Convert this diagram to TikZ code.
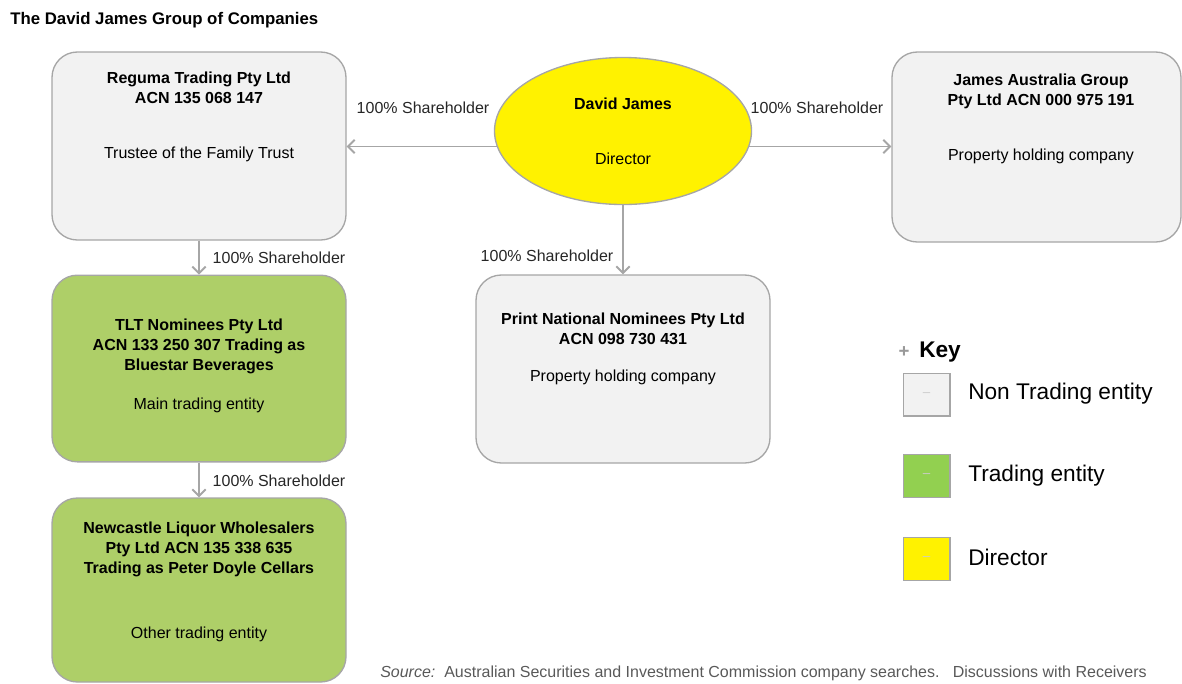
\documentclass[tikz,border=0pt]{standalone}
\usepackage{fontspec}
\setmainfont{Liberation Sans}
\usetikzlibrary{arrows.meta,shapes.geometric,positioning}
\definecolor{boxgrey}{HTML}{F2F2F2}
\definecolor{edgegrey}{HTML}{A6A6A6}
\definecolor{tradegreen}{HTML}{AECF68}
\definecolor{keygreen}{HTML}{92D050}
\definecolor{srcgrey}{HTML}{595959}
\begin{document}
\begin{tikzpicture}[x=0.75pt, y=-0.75pt,
    entity/.style={draw=edgegrey, line width=1pt, rounded corners=19pt, fill=boxgrey, inner sep=0pt},
    trading/.style={entity, fill=tradegreen},
    boss/.style={ellipse, draw=edgegrey, line width=1pt, fill=yellow, inner sep=0pt,
        minimum width=192.75pt, minimum height=110.25pt},
    firm/.style={font=\fontsize{12}{15}\selectfont\bfseries, align=center},
    role/.style={font=\fontsize{12}{15}\selectfont},
    share/.style={draw=edgegrey, line width=1.4pt, -{Straight Barb[length=5pt,width=10pt]}},
    sharetext/.style={font=\fontsize{12}{14}\selectfont, text=black!85},
    keybox/.style={draw=edgegrey, line width=1pt, minimum width=35pt, minimum height=32pt,
        inner sep=0pt, text=black!20},
    keytext/.style={font=\fontsize{17}{20}\selectfont, anchor=west, inner sep=0pt}]
    \useasboundingbox (0,0) rectangle (1182,683);

    % Title
    \node[anchor=west, inner sep=0pt, font=\fontsize{12.6}{14}\selectfont\bfseries] (title) at (10,20)
        {The David James Group of Companies};

    % Entities
    \node[entity, minimum width=220.5pt, minimum height=141pt] (reguma) at (199,146) {};
    \node[entity, minimum width=216.75pt, minimum height=142.5pt] (jag) at (1036.5,147) {};
    \node[boss] (david) at (623,131) {};
    \node[entity, minimum width=220.5pt, minimum height=141pt] (print) at (623,369) {};
    \node[trading, minimum width=220.5pt, minimum height=140pt] (tlt) at (199,368.5) {};
    \node[trading, minimum width=220.5pt, minimum height=138pt] (newcastle) at (199,590) {};

    % Texts in the entities
    \node[firm] (reguma-name) at (199,88) {Reguma Trading Pty Ltd\\ACN 135 068 147};
    \node[role] (reguma-role) at (199,154) {Trustee of the Family Trust};
    \node[firm] (jag-name) at (1041,91) {James Australia Group\\Pty Ltd ACN 000 975 191};
    \node[role] (jag-role) at (1041,156) {Property holding company};
    \node[firm] (david-name) at (623,104) {David James};
    \node[role] (david-role) at (623,159) {Director};
    \node[firm] (print-name) at (623,329) {Print National Nominees Pty Ltd\\ACN 098 730 431};
    \node[role] (print-role) at (623,377) {Property holding company};
    \node[firm] (tlt-name) at (199,346) {TLT Nominees Pty Ltd\\ACN 133 250 307 Trading as\\Bluestar Beverages};
    \node[role] (tlt-role) at (199,405) {Main trading entity};
    \node[firm] (newcastle-name) at (199,549) {Newcastle Liquor Wholesalers\\Pty Ltd ACN 135 338 635\\Trading as Peter Doyle Cellars};
    \node[role] (newcastle-role) at (199,634) {Other trading entity};

    % Shareholdings
    \draw[share] (david.187) -- (reguma.east |- david.187);
    \draw[share] (david.353) -- (jag.west |- david.353);
    \draw[share] (david.south) -- (print.north);
    \draw[share] (reguma.south) -- (tlt.north);
    \draw[share] (tlt.south) -- (newcastle.north);
    \node[sharetext] (share-reguma) at (423,108) {100\% Shareholder};
    \node[sharetext] (share-jag) at (817,108) {100\% Shareholder};
    \node[sharetext] (share-print) at (547,256) {100\% Shareholder};
    \node[sharetext] (share-tlt) at (279,258) {100\% Shareholder};
    \node[sharetext] (share-newcastle) at (279,481) {100\% Shareholder};

    % Key
    \node[text=black!40, font=\fontsize{14}{14}\selectfont\bfseries] (key-plus) at (904,352) {+};
    \node[keytext, font=\fontsize{17}{20}\selectfont\bfseries] (key-title) at (919,352) {Key};
    \node[keybox, fill=boxgrey] (key-grey) at (926.5,394.5) {--};
    \node[keybox, fill=keygreen] (key-green) at (926.5,476) {--};
    \node[keybox, fill=yellow] (key-yellow) at (926.5,559) {--};
    \node[keytext] (key-grey-text) at (968,394) {Non Trading entity};
    \node[keytext] (key-green-text) at (968,476) {Trading entity};
    \node[keytext] (key-yellow-text) at (968,557) {Director};

    % Source
    \node[anchor=west, inner sep=0pt, text=srcgrey, font=\fontsize{12}{13}\selectfont] (source) at (380,673)
        {\textit{Source:}\ \ Australian Securities and Investment Commission company searches.\ \ \ Discussions with Receivers};
\end{tikzpicture}
\end{document}
